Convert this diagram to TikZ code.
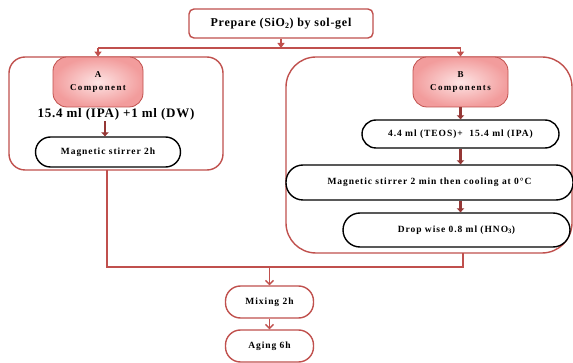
\documentclass[tikz,border=0pt]{standalone}
\usepackage{fontspec}
\setmainfont{Liberation Serif}
\newfontfamily\spacedA[LetterSpace=10]{Liberation Serif}
\newfontfamily\spacedB[LetterSpace=6]{Liberation Serif}
\newfontfamily\spacedC[LetterSpace=15]{Liberation Serif}
\usetikzlibrary{arrows.meta,shadings}
\definecolor{myred}{HTML}{C0504D}
\definecolor{darkred}{HTML}{953735}
\definecolor{pinkin}{HTML}{FDE4E4}
\definecolor{pinkout}{HTML}{F29C9C}
\tikzset{
  x=1pt,y=1pt,
  redline/.style={draw=myred,line width=1.4pt},
  redarrow/.style={redline,-{Triangle[length=5pt,width=7pt]}},
  veearrow/.style={redline,-{Straight Barb[length=4pt,width=8pt,line width=1.4pt]}},
  darrow/.style={draw=darkred,line width=2.6pt,-{Triangle[length=4pt,width=7.5pt]}},
  container/.style={draw=myred,line width=1.4pt,fill=white},
  smallfont/.style={font=\spacedA\fontsize{9.5}{11}\selectfont\bfseries},
  redpill/.style={draw=myred,line width=1.4pt,fill=white,inner sep=0pt,smallfont},
  pinkpill/.style={draw=myred,line width=0.8pt,rounded corners=14pt,inner color=pinkin,outer color=pinkout,
     inner sep=0pt,align=center,font=\spacedC\fontsize{9}{13}\selectfont\bfseries},
  blackpill/.style={draw=black,line width=1.4pt,fill=white,inner sep=0pt,smallfont},
}
\begin{document}
\begin{tikzpicture}
\useasboundingbox (0,0) rectangle (573,-363);
% containers
\node[container,rounded corners=16pt,minimum width=214pt,minimum height=113pt] (leftbox) at (116,-113.5) {};
\node[container,rounded corners=30pt,minimum width=286pt,minimum height=196pt] (rightbox) at (429,-155) {};
% top box
\node[draw=myred,line width=1.4pt,rounded corners=5pt,fill=white,minimum width=184pt,minimum height=29pt,inner sep=0pt,
      font=\spacedB\fontsize{12}{14}\selectfont\bfseries] (prep) at (281,-23.5) {Prepare (SiO\textsubscript{2}) by sol-gel};
% A side
\node[pinkpill,minimum width=90pt,minimum height=50pt] (apill) at (98,-82) {A\\Component};
\node[font=\spacedB\fontsize{13}{15}\selectfont\bfseries,inner sep=1pt] (amix) at (116,-114) {15.4 ml (IPA) +1 ml (DW)};
\node[blackpill,rounded corners=15pt,minimum width=145pt,minimum height=30pt] (maga) at (108,-152) {Magnetic stirrer 2h};
% B side
\node[pinkpill,minimum width=95pt,minimum height=50pt] (bpill) at (460.5,-82) {B\\Components};
\node[blackpill,rounded corners=14pt,minimum width=197pt,minimum height=28pt] (teos) at (460.5,-134) {4.4 ml (TEOS)+\ \ 15.4 ml (IPA)};
\node[blackpill,rounded corners=17pt,minimum width=287pt,minimum height=35pt] (cool) at (429.5,-182.5) {Magnetic stirrer 2 min then cooling at 0°C};
\node[blackpill,rounded corners=17pt,minimum width=227pt,minimum height=34pt] (drop) at (456.5,-230) {Drop wise 0.8 ml (HNO\textsubscript{3})};
% bottom
\node[redpill,rounded corners=15pt,minimum width=88pt,minimum height=32pt] (mix) at (269.5,-302) {Mixing 2h};
\node[redpill,rounded corners=15pt,minimum width=88pt,minimum height=32pt] (aging) at (269.5,-346) {Aging 6h};
% top connectors
\coordinate (hl) at (98,-48);
\coordinate (hr) at (460.5,-48);
\draw[redline] (hl) -- (hr);
\draw[redarrow] (prep.south) -- (prep.south |- hl);
\draw[redarrow] (hl) -- (apill.north);
\draw[redarrow] (hr) -- (bpill.north);
% A arrows
\draw[darrow] (maga.north |- amix.south) ++(-3,0) coordinate (as) -- (as |- maga.north);
% B arrows
\draw[darrow] (bpill.south) -- (teos.north);
\draw[darrow] (teos.south) -- (teos.south |- cool.north);
\draw[darrow] (teos.south |- cool.south) -- (teos.south |- drop.north);
% join
\coordinate (ja) at (107,-170);
\coordinate (jb) at (463,-253);
\coordinate (jl) at (107,-267);
\coordinate (jr) at (463,-267);
\draw[redline] (ja) -- (jl) -- (jr) -- (jb);
\draw[veearrow] (jl -| mix.north) -- (mix.north);
\draw[veearrow] (mix.south) -- (aging.north);
\end{tikzpicture}
\end{document}
